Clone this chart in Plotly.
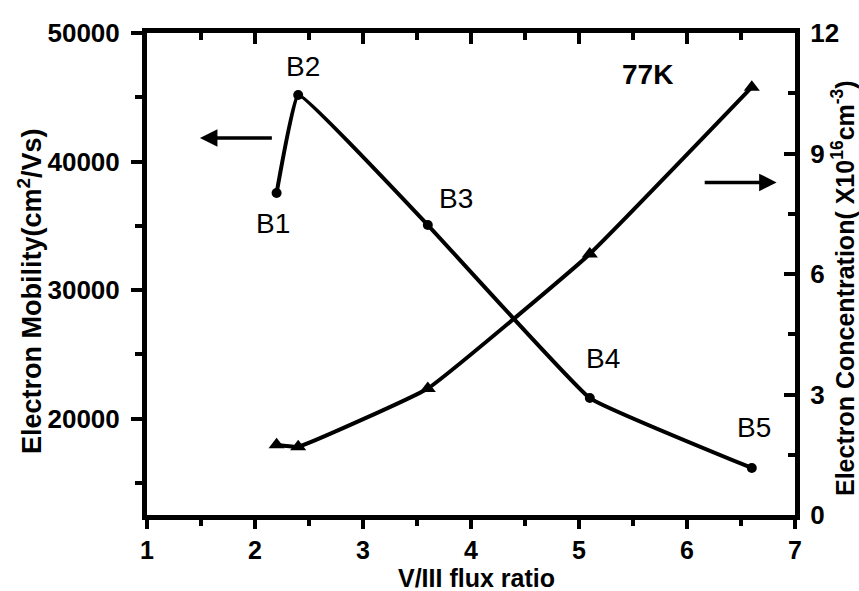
import plotly.graph_objects as go

# V/III flux ratio for samples B1..B5
flux_ratio = [2.2, 2.4, 3.6, 5.1, 6.6]
sample_names = ["B1", "B2", "B3", "B4", "B5"]
# 77K Hall data
mobility = [37550, 45180, 35060, 21600, 16160]          # cm^2/Vs
concentration = [1.75, 1.7, 3.15, 6.5, 10.65]           # x10^16 cm^-3

# label anchor positions (data units) for the sample names
label_x = [2.17, 2.44, 3.86, 5.22, 6.62]
label_y = [35200, 47400, 37100, 24650, 19270]

FONT = "Liberation Sans"
BLACK = "#000000"

fig = go.Figure()

fig.add_trace(go.Scatter(
    x=flux_ratio, y=mobility, mode="lines+markers",
    line=dict(color=BLACK, width=4, shape="spline", smoothing=0.25),
    marker=dict(symbol="circle", size=10, color=BLACK),
    xaxis="x", yaxis="y", showlegend=False,
))

fig.add_trace(go.Scatter(
    x=flux_ratio, y=concentration, mode="lines+markers",
    line=dict(color=BLACK, width=4, shape="spline", smoothing=0.3),
    marker=dict(symbol="triangle-up", size=14, color=BLACK),
    xaxis="x2", yaxis="y2", showlegend=False,
))

tick_font = dict(family=FONT, size=26, color=BLACK, weight="bold")
x_tick_font = dict(family=FONT, size=25, color=BLACK, weight="bold")

fig.update_layout(
    width=859, height=591,
    margin=dict(l=147, r=64, t=33, b=76),
    paper_bgcolor="white", plot_bgcolor="white",
    xaxis=dict(
        range=[1, 7], tick0=1, dtick=1, ticks="outside", ticklen=9, tickwidth=4,
        tickcolor=BLACK, showline=True, linewidth=5, linecolor=BLACK,
        showgrid=False, zeroline=False, tickfont=x_tick_font, ticklabelstandoff=0,
        minor=dict(dtick=0.5, ticks="outside", ticklen=6, tickwidth=4, tickcolor=BLACK),
    ),
    xaxis2=dict(
        range=[1, 7], tick0=1, dtick=1, overlaying="x", side="top", anchor="y",
        ticks="inside", ticklen=11, tickwidth=4, tickcolor=BLACK,
        showline=True, linewidth=5, linecolor=BLACK, showticklabels=False,
        showgrid=False, zeroline=False,
        minor=dict(dtick=0.5, ticks="inside", ticklen=7, tickwidth=4, tickcolor=BLACK),
    ),
    yaxis=dict(
        range=[12500, 50000], tick0=0, dtick=10000, tickformat="d", ticks="outside",
        ticklen=11, tickwidth=4, tickcolor=BLACK, showline=True, linewidth=5,
        linecolor=BLACK, showgrid=False, zeroline=False, tickfont=tick_font,
        ticklabelstandoff=6,
        minor=dict(dtick=5000, ticks="outside", ticklen=7, tickwidth=4, tickcolor=BLACK),
    ),
    yaxis2=dict(
        range=[0, 12], tick0=0, dtick=3, overlaying="y", side="right", anchor="x2",
        ticks="inside", ticklen=11, tickwidth=4, tickcolor=BLACK,
        showline=True, linewidth=5, linecolor=BLACK,
        showgrid=False, zeroline=False, tickfont=tick_font, ticklabelstandoff=5,
        minor=dict(dtick=1.5, ticks="inside", ticklen=7, tickwidth=4, tickcolor=BLACK),
    ),
)

annotations = []
for name, lx, ly in zip(sample_names, label_x, label_y):
    annotations.append(dict(
        x=lx, y=ly, xref="x", yref="y", text=name, showarrow=False,
        font=dict(family=FONT, size=28, color=BLACK),
    ))

annotations.append(dict(
    x=5.63, y=46800, xref="x", yref="y", text="77K", showarrow=False,
    font=dict(family=FONT, size=28, color=BLACK, weight="bold"),
))

# arrows pointing to the axis each curve belongs to
annotations.append(dict(
    x=1.49, y=41830, xref="x", yref="y", ax=2.17, ay=41830, axref="x", ayref="y",
    text="", showarrow=True, arrowhead=2, arrowsize=1, arrowwidth=3.5, arrowcolor=BLACK,
))
annotations.append(dict(
    x=6.83, y=8.28, xref="x", yref="y2", ax=6.15, ay=8.28, axref="x", ayref="y2",
    text="", showarrow=True, arrowhead=2, arrowsize=1, arrowwidth=3.5, arrowcolor=BLACK,
))

# axis titles, placed in pixels then converted to paper coordinates
pw, ph = 859 - 147 - 64, 591 - 33 - 76
titles = [
    ("V/III flux ratio", 476, 578, 0, 25),
    ("Electron Mobility(cm<sup>2</sup>/Vs)", 30, 291, -90, 27),
    ("Electron Concentration( X10<sup>16</sup>cm<sup>-3</sup>)", 843, 288, -90, 25),
]
for text, px, py, angle, size in titles:
    annotations.append(dict(
        x=(px - 147) / pw, y=(591 - 76 - py) / ph, xref="paper", yref="paper",
        xanchor="center", yanchor="middle", text=text, showarrow=False,
        textangle=angle, font=dict(family=FONT, size=size, color=BLACK, weight="bold"),
    ))

fig.update_layout(annotations=annotations)

fig.write_html("out.html")
